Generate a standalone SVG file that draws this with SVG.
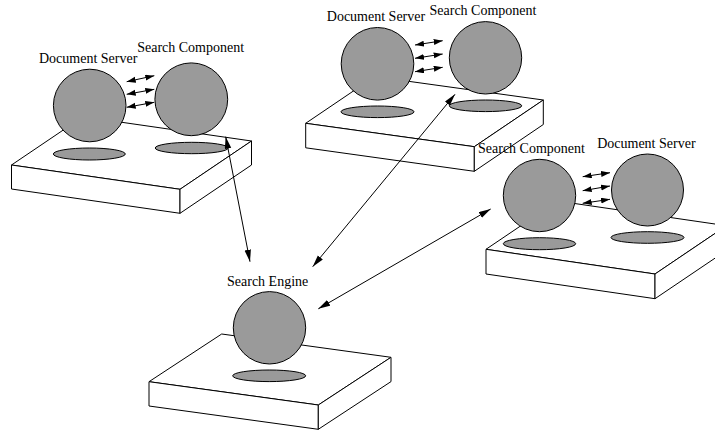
<svg xmlns="http://www.w3.org/2000/svg" width="715" height="431" viewBox="0 0 715 431">
<defs>
<style>
.face{fill:#ffffff;stroke:#000;stroke-width:1;stroke-linejoin:round}
.disc{fill:#9a9a9a;stroke:#000;stroke-width:1}
.ball{fill:#9a9a9a;stroke:#000;stroke-width:1}
.lbl{font-family:"Liberation Serif","Times New Roman",serif;font-size:14px;fill:#000}
.link{stroke:#000;stroke-width:1;fill:none;marker-start:url(#big);marker-end:url(#big)}
.ipc{stroke:#000;stroke-width:1;fill:none;marker-start:url(#small);marker-end:url(#small)}
</style>
<marker id="big" markerUnits="userSpaceOnUse" markerWidth="13" markerHeight="8" refX="12" refY="3.25" orient="auto-start-reverse" viewBox="0 0 13 8">
<path d="M0,0 L12,3.25 L0,6.5 z" fill="#000"/>
</marker>
<marker id="small" markerUnits="userSpaceOnUse" markerWidth="10" markerHeight="7" refX="9" refY="3" orient="auto-start-reverse" viewBox="0 0 10 7">
<path d="M0,0 L9,3 L0,6 z" fill="#000"/>
</marker>
</defs>

<g id="site1">
<g id="site1-base">
<polygon class="face" points="11.5,165 180,189.3 251.5,141 83,116.7"/>
<polygon class="face" points="11.5,165 180,189.3 180,213.3 11.5,189"/>
<polygon class="face" points="180,189.3 251.5,141 251.5,165 180,213.3"/>
</g>
<g id="site1-docserver">
<ellipse class="disc" cx="89.3" cy="154" rx="36" ry="6"/>
<circle class="ball" cx="89.7" cy="105.5" r="36.3"/>
<text class="lbl" x="39" y="63">Document Server</text>
</g>
<g id="site1-search">
<ellipse class="disc" cx="191.7" cy="148" rx="36.5" ry="5.7"/>
<circle class="ball" cx="191.3" cy="99.3" r="36.4"/>
<text class="lbl" x="137.2" y="51.5">Search Component</text>
</g>
</g>

<g id="site2">
<g id="site2-base">
<polygon class="face" points="305.7,123.3 474.3,146.7 543.3,100 374.7,76.6"/>
<polygon class="face" points="305.7,123.3 474.3,146.7 474.3,171.3 305.7,147.8"/>
<polygon class="face" points="474.3,146.7 543.3,100 543.3,124.5 474.3,171.3"/>
</g>
<g id="site2-docserver">
<ellipse class="disc" cx="377.5" cy="111.8" rx="36.5" ry="5.8"/>
<circle class="ball" cx="377.5" cy="63.8" r="36.3"/>
<text class="lbl" x="326.8" y="20.7">Document Server</text>
</g>
<g id="site2-search">
<ellipse class="disc" cx="485.5" cy="105.8" rx="36.2" ry="5.8"/>
<circle class="ball" cx="485.5" cy="57.8" r="36.2"/>
<text class="lbl" x="429.5" y="15">Search Component</text>
</g>
</g>

<g id="site3">
<g id="site3-base">
<polygon class="face" points="486,249.3 655,274 726.5,225.7 557.5,201"/>
<polygon class="face" points="486,249.3 655,274 655,298.7 486,274"/>
<polygon class="face" points="655,274 726.5,225.7 726.5,250.4 655,298.7"/>
</g>
<g id="site3-search">
<ellipse class="disc" cx="539.5" cy="243.7" rx="36.2" ry="6"/>
<circle class="ball" cx="539.5" cy="195.5" r="36.2"/>
<text class="lbl" x="478" y="153.3">Search Component</text>
</g>
<g id="site3-docserver">
<ellipse class="disc" cx="647.5" cy="237.5" rx="36.5" ry="5.8"/>
<circle class="ball" cx="647.5" cy="190" r="36"/>
<text class="lbl" x="597.2" y="148.3">Document Server</text>
</g>
</g>

<g id="engine">
<g id="engine-base">
<polygon class="face" points="149,381.7 318.3,405 391,357.3 221.7,334"/>
<polygon class="face" points="149,381.7 318.3,405 318.3,429.3 149,406"/>
<polygon class="face" points="318.3,405 391,357.3 391,381.6 318.3,429.3"/>
</g>
<g id="engine-node">
<ellipse class="disc" cx="269.2" cy="375.8" rx="36.5" ry="5.8"/>
<circle class="ball" cx="269.5" cy="327.8" r="36.2"/>
<text class="lbl" x="227" y="286">Search Engine</text>
</g>
</g>

<g id="connectors">
<line class="ipc" x1="126.7" y1="81.7" x2="154.3" y2="75.7"/>
<line class="ipc" x1="126.7" y1="94.3" x2="154.3" y2="89.3"/>
<line class="ipc" x1="126.7" y1="107.3" x2="154.3" y2="102.3"/>
<line class="ipc" x1="415" y1="45" x2="442.7" y2="40.7"/>
<line class="ipc" x1="415" y1="58.3" x2="442.7" y2="54"/>
<line class="ipc" x1="415" y1="71.7" x2="442.7" y2="67.3"/>
<line class="ipc" x1="582.7" y1="176.7" x2="610" y2="172.7"/>
<line class="ipc" x1="582.7" y1="190.7" x2="610" y2="186"/>
<line class="ipc" x1="582.7" y1="203.3" x2="610" y2="199.3"/>
<line class="link" x1="225.7" y1="136.7" x2="250" y2="261.7"/>
<line class="link" x1="455" y1="94.3" x2="312.7" y2="266.7"/>
<line class="link" x1="490.7" y1="209" x2="318.3" y2="308.8"/>
</g>
</svg>
